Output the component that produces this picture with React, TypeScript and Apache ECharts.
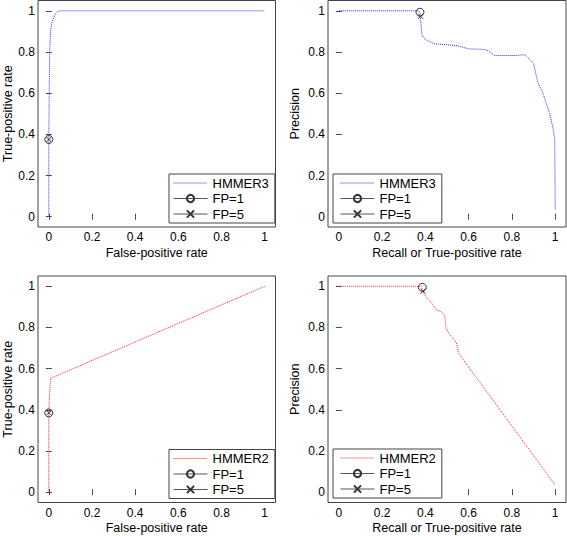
import React, { useEffect, useRef } from "react";
import * as echarts from "echarts";

const tickValues = [0, 0.2, 0.4, 0.6, 0.8, 1];

// HMMER3 ROC
const h3RocFpr = [0, 0, 0.002, 0.004, 0.008, 0.012, 0.02, 0.03, 0.04, 0.055, 1];
const h3RocTpr = [0, 0.375, 0.6, 0.8, 0.9, 0.93, 0.96, 0.985, 0.997, 1, 1];
// HMMER3 PR
const h3Recall = [0, 0.37, 0.375, 0.378, 0.385, 0.4, 0.44, 0.5, 0.55, 0.6, 0.68, 0.72, 0.82, 0.86, 0.9, 0.92, 0.94, 0.975, 0.99, 0.998, 1.0];
const h3Precision = [1, 1, 0.99, 0.95, 0.88, 0.86, 0.84, 0.835, 0.83, 0.815, 0.812, 0.783, 0.783, 0.787, 0.745, 0.65, 0.61, 0.5, 0.43, 0.37, 0.034];
// HMMER2 ROC
const h2RocFpr = [0, 0, 0.002, 0.004, 0.008, 1];
const h2RocTpr = [0, 0.385, 0.44, 0.48, 0.553, 1];
// HMMER2 PR
const h2Recall = [0, 0.38, 0.385, 0.39, 0.404, 0.427, 0.451, 0.474, 0.489, 0.497, 0.512, 0.543, 0.548, 0.554, 1.0];
const h2Precision = [1, 1, 0.99, 0.97, 0.946, 0.922, 0.886, 0.877, 0.857, 0.793, 0.768, 0.728, 0.703, 0.674, 0.035];

// FP markers [x, y]
const h3RocFP1 = [0, 0.375];
const h3RocFP5 = [0, 0.375];
const h3PrFP1 = [0.375, 0.993];
const h3PrFP5 = [0.378, 0.973];
const h2RocFP1 = [0, 0.385];
const h2RocFP5 = [0, 0.385];
const h2PrFP1 = [0.386, 0.995];
const h2PrFP5 = [0.389, 0.976];

const FONT = "Liberation Sans, Arial, sans-serif";
const AXIS_COLOR = "#444";
const BLUE = "#2a2aff";
const RED = "#ff1f1f";

const zip = (a: number[], b: number[]) => a.map((v, i) => [v, b[i]]);

function App() {
  const ref = useRef<HTMLDivElement>(null);
  useEffect(() => {
    document.body.style.margin = "0";
    if (!ref.current) return;
    const chart = echarts.init(ref.current, undefined, { renderer: "svg" });

    const grids = [
      { left: 37.5, top: 0.5, width: 238, height: 226.5 },
      { left: 328, top: 0.5, width: 238, height: 226.5 },
      { left: 37.5, top: 276, width: 238, height: 226.5 },
      { left: 328, top: 276, width: 238, height: 226.5 },
    ].map((g) => ({ ...g, show: true, borderColor: AXIS_COLOR, borderWidth: 1, backgroundColor: "#fff" }));

    const xNames = ["False-positive rate", "Recall or True-positive rate", "False-positive rate", "Recall or True-positive rate"];
    const yNames = ["True-positive rate", "Precision", "True-positive rate", "Precision"];

    const baseAxis = (gridIndex: number) => ({
      type: "value" as const,
      gridIndex,
      min: -0.05,
      max: 1.05,
      axisLine: { show: false },
      splitLine: { show: false },
      axisTick: { show: true, inside: true, length: 3, lineStyle: { color: AXIS_COLOR }, customValues: tickValues },
      axisLabel: { customValues: tickValues, color: "#000", fontSize: 12, fontFamily: FONT },
    });

    const xAxis: any[] = [];
    const yAxis: any[] = [];
    for (let i = 0; i < 4; i++) {
      xAxis.push({
        ...baseAxis(i),
        position: "bottom",
        name: xNames[i],
        nameLocation: "middle",
        nameGap: 19,
        nameTextStyle: { color: "#000", fontSize: 12.5, fontFamily: FONT, verticalAlign: "top" },
        axisLabel: { ...baseAxis(i).axisLabel, margin: 4 },
      });
      yAxis.push({
        ...baseAxis(i),
        position: "left",
        name: yNames[i],
        nameLocation: "middle",
        nameGap: i % 2 === 0 ? 24 : 27,
        nameTextStyle: { color: "#000", fontSize: 12.5, fontFamily: FONT },
        axisLabel: { ...baseAxis(i).axisLabel, margin: 3 },
      });
    }
    // mirrored axes for top/right ticks
    for (let i = 0; i < 4; i++) {
      xAxis.push({ ...baseAxis(i), position: "top", axisLabel: { show: false } });
      yAxis.push({ ...baseAxis(i), position: "right", axisLabel: { show: false } });
    }

    const curveStyle = (color: string) => ({
      type: "line" as const,
      symbol: "none",
      lineStyle: { color, width: 1, type: "dotted" as const },
      itemStyle: { color },
      silent: true,
    });
    const fp1 = (name: string, gi: number, pt: number[]) => ({
      type: "line" as const,
      name,
      xAxisIndex: gi,
      yAxisIndex: gi,
      data: [pt],
      symbol: "circle",
      symbolSize: 8,
      lineStyle: { color: "#333", width: 1 },
      itemStyle: { color: "rgba(0,0,0,0)", borderColor: "#333", borderWidth: 1 },
      z: 5,
    });
    const fp5 = (name: string, gi: number, pt: number[]) => ({
      type: "line" as const,
      name,
      xAxisIndex: gi,
      yAxisIndex: gi,
      data: [pt],
      symbol: "path://M0,0L10,10M10,0L0,10",
      symbolSize: 5,
      lineStyle: { color: "#333", width: 1 },
      itemStyle: { color: "rgba(0,0,0,0)", borderColor: "#333", borderWidth: 1 },
      z: 6,
    });

    const series: any[] = [
      { ...curveStyle(BLUE), name: "HMMER3", xAxisIndex: 0, yAxisIndex: 0, data: zip(h3RocFpr, h3RocTpr) },
      fp1("FP=1", 0, h3RocFP1),
      fp5("FP=5", 0, h3RocFP5),
      { ...curveStyle(BLUE), name: "HMMER3", xAxisIndex: 1, yAxisIndex: 1, data: zip(h3Recall, h3Precision) },
      fp1("FP=1", 1, h3PrFP1),
      fp5("FP=5", 1, h3PrFP5),
      { ...curveStyle(RED), name: "HMMER2", xAxisIndex: 2, yAxisIndex: 2, data: zip(h2RocFpr, h2RocTpr) },
      fp1("FP=1", 2, h2RocFP1),
      fp5("FP=5", 2, h2RocFP5),
      { ...curveStyle(RED), name: "HMMER2", xAxisIndex: 3, yAxisIndex: 3, data: zip(h2Recall, h2Precision) },
      fp1("FP=1", 3, h2PrFP1),
      fp5("FP=5", 3, h2PrFP5),
    ];

    const legend = (curveName: string, color: string, left: number, top: number, padLeft: number) => ({
      orient: "vertical",
      left,
      top,
      data: [
        {
          name: curveName,
          itemStyle: { opacity: 0, color: "rgba(0,0,0,0)", borderWidth: 0 },
          lineStyle: { color, width: 1, type: "dotted" },
        },
        { name: "FP=1", lineStyle: { color: "#555", width: 1, type: "solid" } },
        { name: "FP=5", lineStyle: { color: "#555", width: 1, type: "solid" } },
      ],
      itemWidth: 34,
      itemHeight: 9,
      itemGap: 2.5,
      padding: [2.5, 6, 2.5, padLeft],
      borderColor: AXIS_COLOR,
      borderWidth: 1,
      borderRadius: 0,
      backgroundColor: "#fff",
      selectedMode: false,
      textStyle: { color: "#000", fontSize: 13, fontFamily: FONT, lineHeight: 13 },
    });

    chart.setOption({
      animation: false,
      backgroundColor: "#fff",
      grid: grids,
      xAxis,
      yAxis,
      legend: [
        legend("HMMER3", BLUE, 169, 174, 4),
        legend("HMMER3", BLUE, 333, 174, 7),
        legend("HMMER2", RED, 169, 449.5, 4),
        legend("HMMER2", RED, 333, 449, 7),
      ],
      series,
    });
    return () => chart.dispose();
  }, []);
  return <div ref={ref} style={{ width: 567, height: 536 }} />;
}

export default App;
